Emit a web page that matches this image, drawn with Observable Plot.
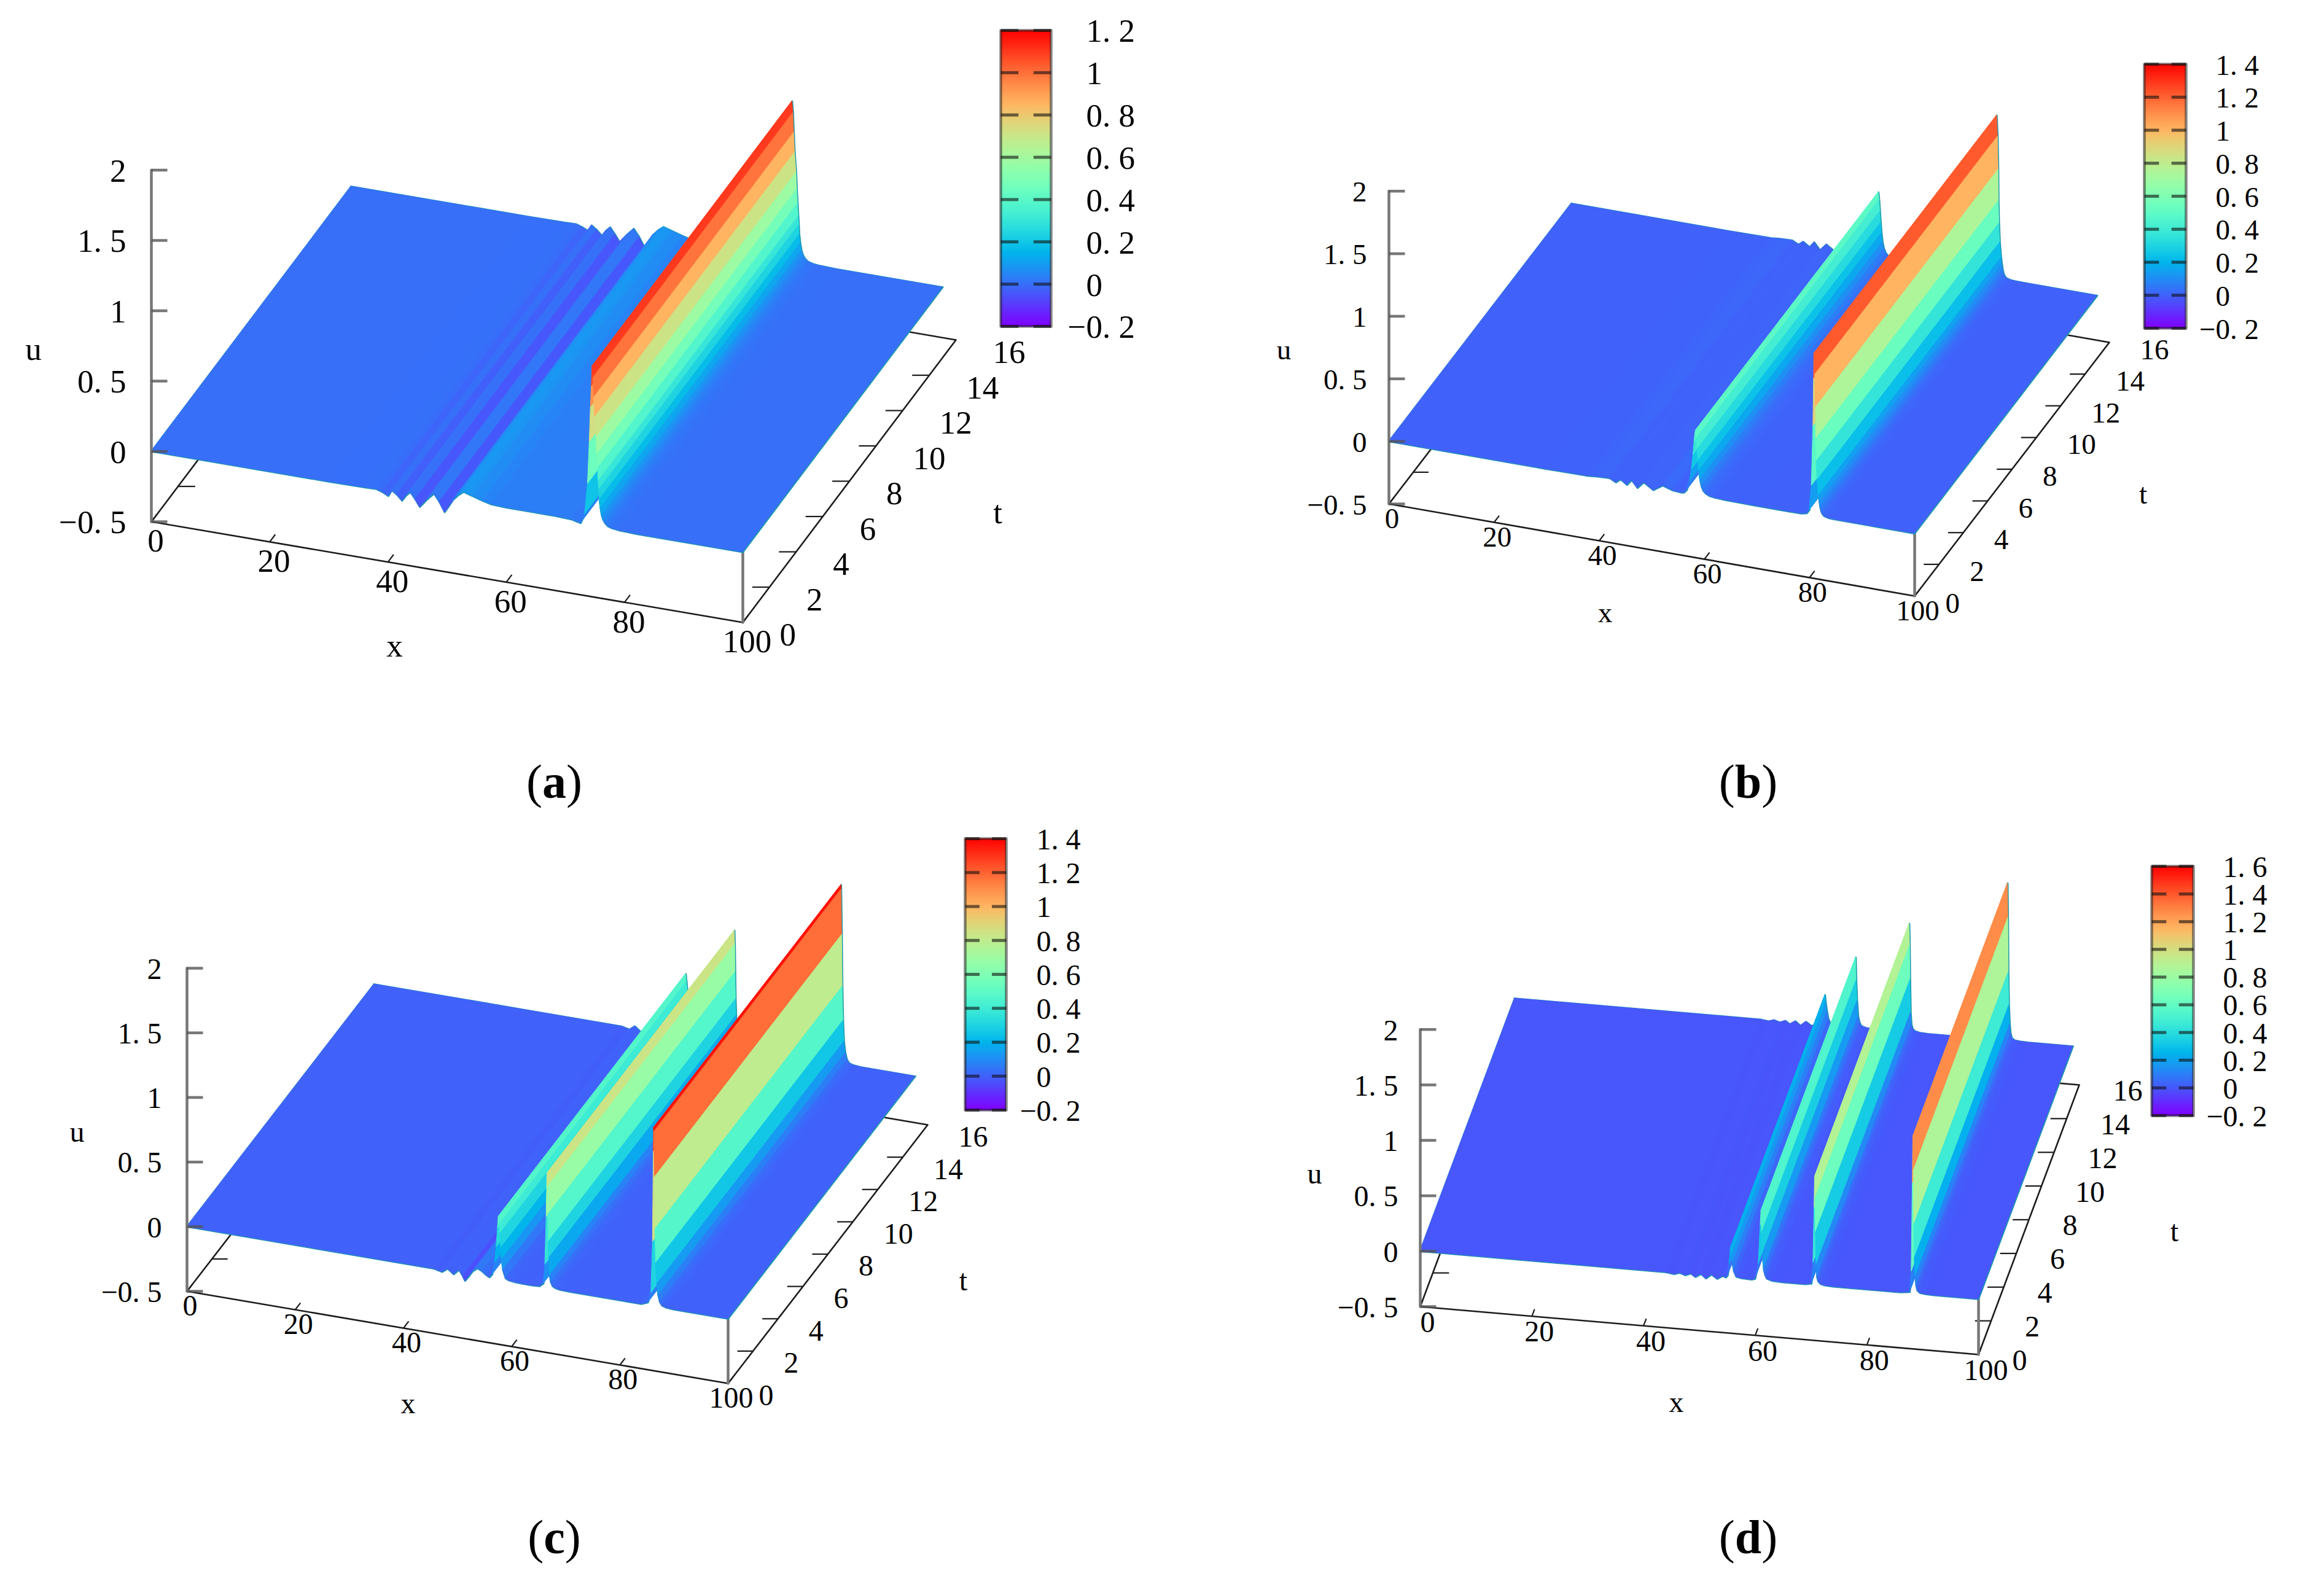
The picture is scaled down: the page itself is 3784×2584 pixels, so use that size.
<!DOCTYPE html>
<html>
<head>
<meta charset="utf-8">
<script src="https://cdn.jsdelivr.net/npm/d3@7"></script>
<script src="https://cdn.jsdelivr.net/npm/@observablehq/plot@0.6"></script>
<style>
html,body{margin:0;padding:0;background:#fff}
#page{position:relative;width:3784px;height:2584px;background:#fff;overflow:hidden}
#page svg{position:absolute;overflow:visible;background:transparent}
</style>
</head>
<body>
<div id="page"></div>
<script>
// ---- values: [x, u] cross-section of each surface ----
const profileA = [[0,0],[30,0],[36,.002],[38,.005],[39,-.008],[40.1,-.03],[40.65,.015],[41.5,-.01],[42.4,-.047],[43.1,-.005],[43.8,.024],[44.6,-.02],[45.4,-.07],[46.6,-.01],[47.8,.042],[48.7,-.01],[49.6,-.077],[50.3,-.03],[51,.02],[51.9,.06],[52.8,.09],[53.6,.08],[54.4,.07],[56,.05],[57.5,.035],[60,.03],[64,.03],[68,.03],[71,.025],[72.6,.01],[73.3,.08],[73.8,.3],[74.1,.6],[74.3,.85],[74.45,1],[74.56,1.14],[74.72,1.06],[74.85,.92],[75,.78],[75.25,.64],[75.36,.52],[75.5,.42],[75.62,.33],[75.7,.27],[75.78,.2],[75.95,.14],[76.15,.09],[76.4,.06],[76.7,.04],[77.2,.02],[78,.01],[79,.005],[82,0],[100,0]];
const profileB = [[0,0],[30,0],[38,.003],[39.6,.01],[42,.015],[43.2,-.01],[44.1,.02],[45.3,-.015],[46.2,.03],[47.3,-.025],[48.5,.03],[50.3,-.02],[52.1,.03],[54,.005],[55.7,0],[56.2,.005],[56.7,.03],[57.2,.1],[57.6,.2],[57.9,.32],[58.1,.42],[58.25,.49],[58.4,.52],[58.55,.46],[58.7,.37],[58.85,.28],[59,.2],[59.2,.13],[59.45,.08],[59.8,.045],[60.3,.025],[61,.012],[62,.006],[64,.002],[70,0],[76,0],[78.5,.001],[79.5,.01],[80,.04],[80.42,.24],[80.72,.72],[80.85,1.1],[80.9,1.3],[81.08,1.133],[81.2,.87],[81.25,.62],[81.35,.44],[81.5,.29],[81.75,.17],[81.9,.12],[82.05,.08],[82.2,.05],[82.4,.03],[82.7,.015],[83.1,.008],[83.6,.003],[84.5,.001],[86,0],[100,0]];
const profileC = [[0,0],[30,0],[38,0],[45.7,0],[47.2,-.014],[48.2,.018],[49.3,-.018],[50.3,.024],[51,-.02],[51.4,-.053],[52,-.02],[52.8,.03],[53.65,.06],[54.5,.045],[55.3,.02],[55.9,.006],[56.4,.03],[56.9,.13],[57.2,.25],[57.45,.4],[57.6,.49],[57.75,.43],[57.9,.36],[58.05,.25],[58.2,.16],[58.4,.08],[58.9,.02],[59.5,.008],[60.5,.003],[62,0],[64,0],[65.2,.004],[65.9,.03],[66.2,.18],[66.45,.55],[66.6,.89],[66.68,.785],[66.75,.57],[66.82,.36],[66.92,.235],[67.05,.1],[67.25,.05],[67.6,.02],[68.2,.008],[69,.002],[71,0],[84,0],[85.2,.02],[85.8,.1],[86.1,.5],[86.25,1.2],[86.3,1.383],[86.33,1.35],[86.45,1],[86.55,.6],[86.68,.336],[86.85,.175],[87.1,.09],[87.4,.04],[87.8,.015],[88.5,.005],[90,0],[100,0]];
const profileD = [[0,0],[35,0],[44,0],[45.5,-.01],[46.5,.005],[47.5,-.012],[48.5,.008],[49.3,-.02],[50.3,.012],[51.2,-.025],[52.2,.015],[53.2,-.02],[54.2,.01],[54.8,0],[55.1,.02],[55.35,.12],[55.6,.27],[55.75,.2],[55.95,.13],[56.2,.06],[56.6,.015],[57.5,.005],[59.4,0],[60,.01],[60.6,.15],[60.95,.5],[61.1,.633],[61.2,.43],[61.35,.245],[61.55,.1],[61.8,.05],[62.1,.02],[63,.005],[65,0],[69,0],[70.1,.01],[70.4,.2],[70.6,.7],[70.7,.98],[70.78,.785],[70.85,.475],[70.95,.18],[71.1,.07],[71.3,.035],[71.7,.015],[72.5,.004],[74,0],[86,0],[87.7,.01],[88,.2],[88.2,1],[88.3,1.42],[88.38,1.11],[88.45,.62],[88.55,.32],[88.7,.15],[88.85,.07],[89.05,.03],[89.5,.01],[90.5,.003],[92,0],[100,0]];

// ---- tick values and labels ----
const uTicks = [-0.5,0,0.5,1,1.5,2];
const uLabels = ["−0. 5","0","0. 5","1","1. 5","2"];
const xTicks = [0,20,40,60,80,100];
const tTicks = [0,2,4,6,8,10,12,14,16];
const barTicksA = [-0.2,0,0.2,0.4,0.6,0.8,1,1.2];
const barLabelsA = ["−0. 2","0","0. 2","0. 4","0. 6","0. 8","1","1. 2"];
const barTicksB = [-0.2,0,0.2,0.4,0.6,0.8,1,1.2,1.4];
const barLabelsB = ["−0. 2","0","0. 2","0. 4","0. 6","0. 8","1","1. 2","1. 4"];
const barTicksD = [-0.2,0,0.2,0.4,0.6,0.8,1,1.2,1.4,1.6];
const barLabelsD = ["−0. 2","0","0. 2","0. 4","0. 6","0. 8","1","1. 2","1. 4","1. 6"];
const tEnd = 15;   // the surfaces stop at t = 15

// ---- layout of each panel, in page pixels ----
const panels = [
 {name:"(a)",profile:profileA,barTicks:barTicksA,barLabels:barLabelsA,ox:0,oy:0,
  o:[246,849],vx:[963,164],vt:[347,-460],uPx:229,fs:53,
  xOff:[7,32],tOff:[60,21],uRight:205,
  xTitle:[642,1052],uTitle:[54,569],tTitle:[1624,835],cap:[902,1274],
  bar:{x:[1629,1711],y:[49,531],lx:1768}},
 {name:"(b)",profile:profileB,barTicks:barTicksB,barLabels:barLabelsB,ox:1892,oy:0,
  o:[2261,820],vx:[856,150],vt:[317,-413],uPx:203.7,fs:47,
  xOff:[5,24],tOff:[50,12],uRight:2225,
  xTitle:[2613,997],uTitle:[2090,569],tTitle:[3489,804],cap:[2846,1274],
  bar:{x:[3491,3559],y:[104,534],lx:3607}},
 {name:"(c)",profile:profileC,barTicks:barTicksB,barLabels:barLabelsB,ox:0,oy:1292,
  o:[304,2102],vx:[881,150],vt:[325,-421],uPx:210.4,fs:48,
  xOff:[5,24],tOff:[50,20],uRight:263,
  xTitle:[664,2285],uTitle:[125,1843],tTitle:[1568,2085],cap:[902,2504],
  bar:{x:[1571,1638],y:[1365,1807],lx:1687}},
 {name:"(d)",profile:profileD,barTicks:barTicksD,barLabels:barLabelsD,ox:1892,oy:1292,
  o:[2312,2127],vx:[909,78],vt:[164,-439],uPx:180.5,fs:48,
  xOff:[12,26],tOff:[55,10],uRight:2276,
  xTitle:[2729,2283],uTitle:[2140,1911],tTitle:[3540,2005],cap:[2846,2504],
  bar:{x:[3503,3571],y:[1410,1816],lx:3619}}
];

const serif = "Liberation Serif";
const paletteRainbow = s => {
  const c = v => Math.round(255*Math.max(0,Math.min(1,v)));
  return `rgb(${c(Math.abs(2*s-0.5))},${c(Math.sin(Math.PI*s))},${c(Math.cos(Math.PI*s/2))})`;
};

function drawPanel(p){
  const w = 1892, h = 1292;
  const uMin = p.barTicks[0], uMax = p.barTicks[p.barTicks.length-1];
  const px = (x,t,u) => p.o[0] + p.vx[0]*x/100 + p.vt[0]*t/16;
  const py = (x,t,u) => p.o[1] + p.vx[1]*x/100 + p.vt[1]*t/16 - (u+0.5)*p.uPx;

  // surface strips: one band per pair of neighbouring profile points
  const strips = p.profile.slice(1).flatMap(([x1,u1],i)=>{
    const [x0,u0] = p.profile[i];
    return [0,tEnd].map(t=>({strip:i,v:(u0+u1)/2,
      x1:px(x0,t,u0),y1:py(x0,t,u0),x2:px(x1,t,u1),y2:py(x1,t,u1)}));
  });
  const pathAt = t => p.profile.map(([x,u])=>({x:px(x,t,u),y:py(x,t,u)}));
  const edge = (a,b) => [a,b].map(([x,t,u])=>({x:px(x,t,u),y:py(x,t,u)}));

  const baseLine = [[0,0],[100,0],[100,16],[0,16],[0,0]].map(([x,t])=>({x:px(x,t,-.5),y:py(x,t,-.5)}));
  const xTickRows = xTicks.map(x=>({x1:px(x,0,-.5),y1:py(x,0,-.5),x2:px(x,.42,-.5),y2:py(x,.42,-.5)}));
  const tTickRows = tTicks.slice(1,-1).flatMap(t=>[[0,2.9],[100,97.1]].map(([a,b])=>({x1:px(a,t,-.5),y1:py(a,t,-.5),x2:px(b,t,-.5),y2:py(a,t,-.5)})));
  const uTickRows = uTicks.map(u=>({x1:px(0,0,u),y1:py(0,0,u),x2:px(0,0,u)+26,y2:py(0,0,u)}));

  const xText = xTicks.map(x=>({x:px(x,0,-.5)+p.xOff[0],y:py(x,0,-.5)+p.xOff[1],s:String(x)}));
  const tText = tTicks.map(t=>({x:px(100,t,-.5)+p.tOff[0],y:py(100,t,-.5)+p.tOff[1],s:String(t)}));
  const uText = uTicks.map((u,i)=>({x:p.uRight,y:py(0,0,u)+2,s:uLabels[i]}));

  // colour bar
  const b = p.bar, n = 160;
  const yBar = d3.scaleLinear([uMax,uMin],b.y);
  const barRows = d3.range(n).map(i=>{
    const v0 = uMax-(uMax-uMin)*i/n, v1 = uMax-(uMax-uMin)*(i+1)/n;
    return {v:(v0+v1)/2,y1:yBar(v0),y2:yBar(v1)+1};
  });
  const bw = b.x[1]-b.x[0], dash = bw*0.35;
  const barDash = p.barTicks.flatMap(v=>[[b.x[0],b.x[0]+dash],[b.x[1]-dash,b.x[1]]].map(([a,c])=>({x1:a,x2:c,y:yBar(v)})));
  const barOutline = [[b.x[0],b.y[0]],[b.x[1],b.y[0]],[b.x[1],b.y[1]],[b.x[0],b.y[1]],[b.x[0],b.y[0]]].map(([x,y])=>({x,y}));
  const barText = p.barTicks.map((v,i)=>({x:b.lx-(v<0?p.fs*0.564:0),y:yBar(v)+2,s:p.barLabels[i]}));

  const textOpts = {x:"x",y:"y",text:"s",fontFamily:serif,fontSize:p.fs,fill:"#000"};
  const plot = Plot.plot({
    width:w,height:h,margin:0,
    x:{domain:[p.ox,p.ox+w],range:[0,w],axis:null},
    y:{domain:[p.oy,p.oy+h],range:[0,h],axis:null},
    color:{type:"linear",domain:[uMin,uMax],interpolate:paletteRainbow,clamp:true},
    style:{background:"transparent",overflow:"visible"},
    marks:[
      Plot.line(baseLine,{x:"x",y:"y",stroke:"#1c1c1c",strokeWidth:2.6}),
      Plot.link(xTickRows,{x1:"x1",y1:"y1",x2:"x2",y2:"y2",stroke:"#1c1c1c",strokeWidth:2.2}),
      Plot.link(tTickRows,{x1:"x1",y1:"y1",x2:"x2",y2:"y2",stroke:"#1c1c1c",strokeWidth:2.2}),
      Plot.line(edge([100,0,-.5],[100,0,0]),{x:"x",y:"y",stroke:"#777",strokeWidth:4.5}),
      // thin teal rim around the surface, under it
      Plot.line(pathAt(0),{x:"x",y:"y",stroke:"#1f9aa8",strokeWidth:3}),
      Plot.line(pathAt(tEnd),{x:"x",y:"y",stroke:"#1f9aa8",strokeWidth:3}),
      Plot.line(edge([0,0,0],[0,tEnd,0]),{x:"x",y:"y",stroke:"#1f9aa8",strokeWidth:3}),
      Plot.line(edge([100,0,0],[100,tEnd,0]),{x:"x",y:"y",stroke:"#1f9aa8",strokeWidth:3}),
      Plot.area(strips,{x1:"x1",y1:"y1",x2:"x2",y2:"y2",z:"strip",fill:"v",stroke:"v",strokeWidth:1}),
      // the u axis stands in front
      Plot.line(edge([0,0,-.5],[0,0,2]),{x:"x",y:"y",stroke:"#777",strokeWidth:4.5}),
      Plot.link(uTickRows,{x1:"x1",y1:"y1",x2:"x2",y2:"y2",stroke:"#555",strokeOpacity:.8,strokeWidth:4.5}),
      Plot.text(xText,textOpts),
      Plot.text(tText,{...textOpts,textAnchor:"start"}),
      Plot.text(uText,{...textOpts,textAnchor:"end"}),
      Plot.text([{x:p.xTitle[0],y:p.xTitle[1],s:"x"}],textOpts),
      Plot.text([{x:p.uTitle[0],y:p.uTitle[1],s:"u"}],textOpts),
      Plot.text([{x:p.tTitle[0],y:p.tTitle[1],s:"t"}],textOpts),
      Plot.rect(barRows,{x1:()=>b.x[0],x2:()=>b.x[1],y1:"y1",y2:"y2",fill:"v"}),
      Plot.line(barOutline,{x:"x",y:"y",stroke:"#222",strokeOpacity:.55,strokeWidth:4.5}),
      Plot.link(barDash,{x1:"x1",x2:"x2",y1:"y",y2:"y",stroke:"#111",strokeOpacity:.6,strokeWidth:5}),
      Plot.text(barText,{...textOpts,textAnchor:"start"}),
      Plot.text([{x:p.cap[0],y:p.cap[1],s:p.name}],{...textOpts,fontSize:78})
    ]
  });
  plot.style.left = p.ox+"px";
  plot.style.top = p.oy+"px";
  // the letter of the panel caption is bold
  d3.select(plot).selectAll("text").each(function(){
    const s = this.textContent, m = /^\((\w)\)$/.exec(s);
    if(!m) return;
    this.textContent = "";
    const t = d3.select(this);
    t.append("tspan").text("(");
    t.append("tspan").attr("font-weight","bold").text(m[1]);
    t.append("tspan").text(")");
  });
  return plot;
}
const page = document.getElementById("page");
panels.forEach(p=>page.appendChild(drawPanel(p)));
</script>
</body>
</html>
